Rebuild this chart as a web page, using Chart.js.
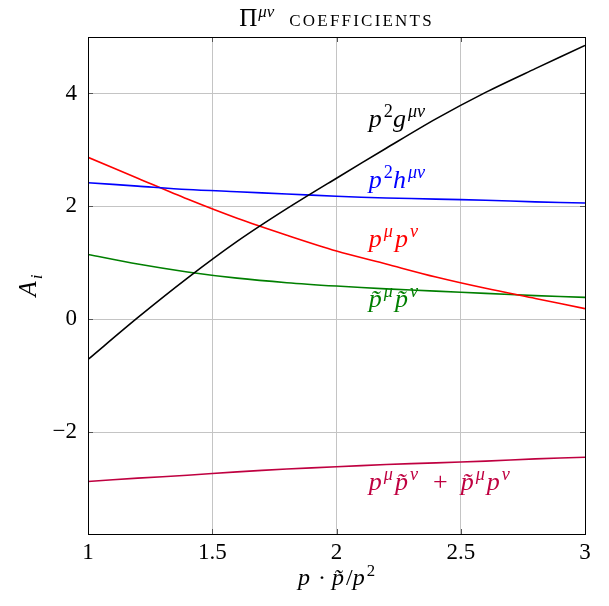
<!DOCTYPE html>
<html>
<head>
<meta charset="utf-8">
<script src="https://cdn.jsdelivr.net/npm/chart.js@4.4.1/dist/chart.umd.min.js"></script>
<style>
  html, body { margin: 0; padding: 0; background: #fff; }
  #wrap { width: 609px; height: 606px; }
</style>
</head>
<body>
<div id="wrap"><canvas id="coeffChart" width="609" height="606"></canvas></div>
<script>
// x values (p.p~/p^2)
const xVals = [1.0, 1.2, 1.4, 1.6, 1.8, 2.0, 2.2, 2.4, 2.6, 2.8, 3.0];

// series
const gSeries = [-0.71, 0.03, 0.73, 1.38, 1.96, 2.50, 3.03, 3.55, 4.02, 4.44, 4.85];
const hSeries = [2.42, 2.36, 2.30, 2.26, 2.22, 2.18, 2.15, 2.13, 2.11, 2.08, 2.06];
const ppSeries = [2.87, 2.50, 2.13, 1.79, 1.49, 1.21, 0.98, 0.75, 0.55, 0.37, 0.19];
const ttSeries = [1.15, 0.98, 0.84, 0.73, 0.65, 0.59, 0.54, 0.50, 0.46, 0.42, 0.39];
const mixSeries = [-2.87, -2.81, -2.76, -2.70, -2.65, -2.61, -2.57, -2.54, -2.51, -2.47, -2.44];

const xTicks = [1, 1.5, 2, 2.5, 3];
const yTicks = [-2, 0, 2, 4];

const serif = '"Liberation Serif", "DejaVu Serif", serif';

function pts(ys) {
    return xVals.map((x, i) => ({ x: x, y: ys[i] }));
}

// labels for each curve: pieces of math text, anchored in data coords
const curveLabels = [
    { at: [2.13, 3.40], color: '#000000', parts: [['p', 'i'], ['2', 'sup'], ['g', 'i'], ['μν', 'supi']] },
    { at: [2.13, 2.33], color: '#0000ff', parts: [['p', 'i'], ['2', 'sup'], ['h', 'i'], ['μν', 'supi']] },
    { at: [2.13, 1.28], color: '#ff0000', parts: [['p', 'i'], ['μ', 'supi'], ['p', 'i'], ['ν', 'supi']] },
    { at: [2.13, 0.22], color: '#007f00', parts: [['p\u0303', 'i'], ['μ', 'supi'], ['p\u0303', 'i'], ['ν', 'supi']] },
    { at: [2.13, -3.02], color: '#bf0040', parts: [['p', 'i'], ['μ', 'supi'], ['p\u0303', 'i'], ['ν', 'supi'], ['  +  ', 'n'], ['p\u0303', 'i'], ['μ', 'supi'], ['p', 'i'], ['ν', 'supi']] }
];

function drawParts(ctx, x, y, parts, size, measureOnly) {
    let cx = x;
    parts.forEach(p => {
        const txt = p[0], kind = p[1];
        let fs = size, dy = 0, style = '';
        if (kind === 'i') style = 'italic ';
        if (kind === 'sup' || kind === 'supi') { fs = size * 0.7; dy = -size * 0.38; }
        if (kind === 'supi') style = 'italic ';
        if (kind === 'sub') { fs = size * 0.7; dy = size * 0.22; style = 'italic '; }
        ctx.font = style + fs + 'px ' + serif;
        if (!measureOnly) ctx.fillText(txt, cx, y + dy);
        cx += ctx.measureText(txt).width + (kind === 'i' || kind === 'supi' ? 2 : 0);
    });
    return cx - x;
}

const decorations = {
    id: 'decorations',
    afterDraw(chart) {
        const ctx = chart.ctx;
        const a = chart.chartArea;
        const xs = chart.scales.x, ys = chart.scales.y;
        ctx.save();

        // inner tick marks
        ctx.strokeStyle = '#555';
        ctx.lineWidth = 1;
        ctx.beginPath();
        yTicks.forEach(v => {
            const py = Math.round(ys.getPixelForValue(v)) + 0.5;
            ctx.moveTo(a.left, py); ctx.lineTo(a.left + 5, py);
            ctx.moveTo(a.right, py); ctx.lineTo(a.right - 5, py);
        });
        xTicks.forEach(v => {
            const px = Math.round(xs.getPixelForValue(v)) + 0.5;
            ctx.moveTo(px, a.bottom); ctx.lineTo(px, a.bottom - 5);
            ctx.moveTo(px, a.top); ctx.lineTo(px, a.top + 5);
        });
        ctx.stroke();

        // frame
        ctx.strokeStyle = '#000';
        ctx.lineWidth = 1;
        ctx.strokeRect(Math.round(a.left) + 0.5, Math.round(a.top) + 0.5,
                       Math.round(a.right - a.left), Math.round(a.bottom - a.top));

        // curve labels
        ctx.textBaseline = 'alphabetic';
        ctx.textAlign = 'left';
        curveLabels.forEach(l => {
            ctx.fillStyle = l.color;
            drawParts(ctx, xs.getPixelForValue(l.at[0]), ys.getPixelForValue(l.at[1]), l.parts, 26);
        });

        // title
        ctx.fillStyle = '#000';
        const mid = (a.left + a.right) / 2;
        ctx.font = '25px ' + serif;
        const wPi = ctx.measureText('Π').width;
        ctx.font = 'italic 17px ' + serif;
        const wSup = ctx.measureText('μν').width;
        ctx.font = '17px ' + serif;
        ctx.letterSpacing = '2.2px';
        const capTxt = 'COEFFICIENTS';
        const wCap = ctx.measureText(capTxt).width;
        const total = wPi + wSup + 16 + wCap;
        let tx = mid - total / 2;
        ctx.letterSpacing = '0px';
        ctx.font = '25px ' + serif;
        ctx.fillText('Π', tx, 26);
        tx += wPi;
        ctx.font = 'italic 17px ' + serif;
        ctx.fillText('μν', tx + 1, 17);
        tx += wSup + 16;
        ctx.font = '17px ' + serif;
        ctx.letterSpacing = '2.2px';
        ctx.fillText(capTxt, tx, 26);
        ctx.letterSpacing = '0px';

        // x axis title
        const xParts = [['p', 'i'], [' · ', 'n'], ['p\u0303', 'i'], ['/', 'n'], ['p', 'i'], ['2', 'sup']];
        const xw = drawParts(ctx, 0, 0, xParts, 24, true);
        drawParts(ctx, mid - xw / 2, 585, xParts, 24);

        // y axis title
        ctx.translate(36, (a.top + a.bottom) / 2);
        ctx.rotate(-Math.PI / 2);
        const yParts = [['A', 'i'], ['i', 'sub']];
        const yw = drawParts(ctx, 0, 0, yParts, 25, true);
        drawParts(ctx, -yw / 2, 0, yParts, 25);
        ctx.restore();
    }
};

function ds(data, color) {
    return {
        data: pts(data),
        borderColor: color,
        backgroundColor: color,
        borderWidth: 1.6,
        pointRadius: 0,
        tension: 0.3,
        fill: false
    };
}

const ctx = document.getElementById('coeffChart').getContext('2d');
const myChart = new Chart(ctx, {
    type: 'line',
    data: {
        datasets: [
            ds(gSeries, '#000000'),
            ds(hSeries, '#0000ff'),
            ds(ppSeries, '#ff0000'),
            ds(ttSeries, '#007f00'),
            ds(mixSeries, '#bf0040')
        ]
    },
    plugins: [decorations],
    options: {
        responsive: false,
        animation: false,
        layout: { padding: { left: 0, top: 37, right: 24, bottom: 0 } },
        plugins: {
            legend: { display: false },
            tooltip: { enabled: false }
        },
        scales: {
            x: {
                type: 'linear',
                min: 1,
                max: 3,
                afterBuildTicks: s => { s.ticks = xTicks.map(v => ({ value: v })); },
                afterFit: s => { s.height = 72; },
                grid: { color: '#c4c4c4', drawTicks: false },
                border: { display: false },
                ticks: {
                    padding: 5,
                    color: '#000',
                    font: { family: serif, size: 23 },
                    callback: v => String(v)
                }
            },
            y: {
                type: 'linear',
                min: -3.8,
                max: 5,
                afterBuildTicks: s => { s.ticks = yTicks.map(v => ({ value: v })); },
                afterFit: s => { s.width = 88; },
                grid: { color: '#c4c4c4', drawTicks: false },
                border: { display: false },
                ticks: {
                    padding: 11,
                    color: '#000',
                    font: { family: serif, size: 23 },
                    callback: v => (v < 0 ? '\u2212' + Math.abs(v) : String(v))
                }
            }
        }
    }
});
</script>
</body>
</html>
